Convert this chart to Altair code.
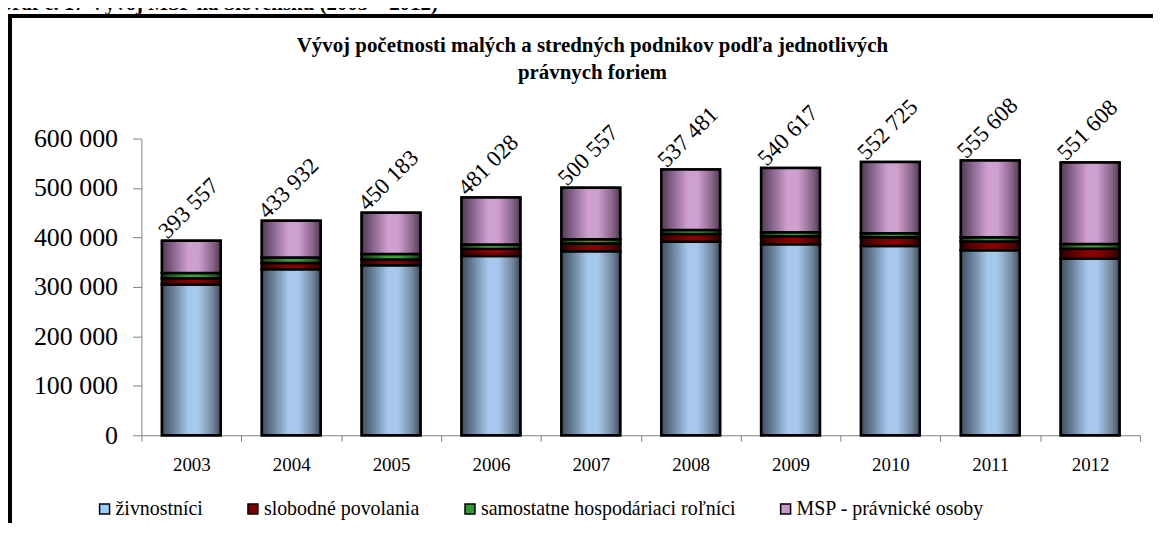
import altair as alt
import pandas as pd

years = ["2003", "2004", "2005", "2006", "2007", "2008", "2009", "2010", "2011", "2012"]
series_names = ["živnostníci", "slobodné povolania", "samostatne hospodáriaci roľníci", "MSP - právnické osoby"]
zivnostnici = [304800, 335600, 343700, 362400, 371900, 391500, 386000, 382500, 373900, 357200]
slobodne = [12500, 12700, 11500, 14500, 16000, 15500, 16500, 18000, 18000, 20000]
shr = [11000, 11300, 11500, 9000, 8500, 8000, 8000, 8000, 8500, 9500]
msp_po = [65257, 74332, 83483, 95128, 104157, 122481, 130117, 144225, 155208, 164908]
totals = [393557, 433932, 450183, 481028, 500557, 537481, 540617, 552725, 555608, 551608]

title_lines = ["Vývoj početnosti malých a stredných podnikov podľa jednotlivých", "právnych foriem"]
header = "Graf č. 17 Vývoj MSP na Slovensku (2003 – 2012)"
y_ticks = [0, 100000, 200000, 300000, 400000, 500000, 600000]

legend_colors = ["#99ccff", "#800000", "#339933", "#cc99cc"]
grad_stops = [
    ["#3f4d5e", "#667c95", "#a6c8ec", "#a6c8ec", "#74899f", "#3f4d5e"],
    ["#300000", "#580000", "#8a0000", "#8a0000", "#580000", "#300000"],
    ["#123312", "#226622", "#3aa03a", "#3aa03a", "#246a24", "#123312"],
    ["#523a52", "#85628a", "#cf9fd0", "#cf9fd0", "#8a668a", "#523a52"],
]
stop_pos = [0.0, 0.18, 0.45, 0.62, 0.86, 1.0]

FONT = "Liberation Serif"

rows = []
for i, y in enumerate(years):
    base = 0
    for k, vals in enumerate([zivnostnici, slobodne, shr, msp_po]):
        rows.append({"year": y, "series": series_names[k], "order": k,
                     "y0": base, "y1": base + vals[i]})
        base += vals[i]
df = pd.DataFrame(rows)
tot_df = pd.DataFrame({"year": years, "total": totals})

x_enc = alt.X("year:N", sort=years, title=None,
              scale=alt.Scale(paddingInner=0, paddingOuter=0),
              axis=alt.Axis(labelAngle=0, tickBand="extent", domainColor="#808080",
                            tickColor="#808080", tickSize=6, labelPadding=14,
                            labelFont=FONT, labelFontSize=19, labelColor="black"))
y_enc = alt.Y("y0:Q", title=None,
              scale=alt.Scale(domain=[0, 600000], nice=False),
              axis=alt.Axis(values=y_ticks, grid=False, domainColor="#808080",
                            tickColor="#808080", tickSize=9, labelPadding=15,
                            labelFont=FONT, labelFontSize=26, labelColor="black",
                            labelExpr="replace(format(datum.value, ',d'), ',', ' ')"))

flat = alt.Chart(df).mark_bar(width=59, stroke="black", strokeWidth=2.5).encode(
    x=x_enc, y=y_enc, y2="y1:Q",
    color=alt.Color("series:N",
                    scale=alt.Scale(domain=series_names, range=legend_colors),
                    legend=alt.Legend(title=None, orient="none", legendX=-47, legendY=362,
                                      direction="horizontal", symbolType="square",
                                      symbolSize=100, symbolStrokeColor="black",
                                      symbolStrokeWidth=1.5, labelFont=FONT,
                                      labelFontSize=20, labelColor="black", labelLimit=500,
                                      labelOffset=1, columnPadding=40)),
)

layers = [flat]
for k, s in enumerate(series_names):
    grad = alt.LinearGradient(
        gradient="linear", x1=0, x2=1, y1=0, y2=0,
        stops=[alt.GradientStop(offset=o, color=c) for o, c in zip(stop_pos, grad_stops[k])])
    layers.append(
        alt.Chart(df).transform_filter(alt.datum.series == s)
        .mark_bar(width=59, fill=grad, stroke="black", strokeWidth=2.5)
        .encode(x=alt.X("year:N", sort=years), y="y0:Q", y2="y1:Q")
    )

labels = alt.Chart(tot_df).transform_calculate(
    lbl="replace(format(datum.total, ',d'), ',', ' ')"
).mark_text(angle=315, align="left", baseline="alphabetic", font=FONT, fontSize=23,
            color="black", xOffset=-24, yOffset=-1).encode(
    x=alt.X("year:N", sort=years), y=alt.Y("total:Q"), text="lbl:N")

one = pd.DataFrame({"a": [0]})
frame = alt.Chart(one).mark_rect(fill="transparent", stroke="black", strokeWidth=4).encode(
    x=alt.value(-132), x2=alt.value(1200), y=alt.value(-123), y2=alt.value(600))

title_df = pd.DataFrame({"t": title_lines, "yy": [-87, -60]})
title = alt.Chart(title_df).mark_text(font=FONT, fontSize=21, fontWeight="bold",
                                     align="center", baseline="alphabetic", color="black").encode(
    text="t:N", x=alt.value(453), y=alt.Y("yy:Q", scale=None))

head = alt.Chart(pd.DataFrame({"t": [header]})).mark_text(
    font=FONT, fontSize=21, fontWeight="bold", align="left", baseline="alphabetic",
    color="black").encode(text="t:N", x=alt.value(-146), y=alt.value(-129))

chart = alt.layer(frame, *layers, labels, title, head).properties(
    width=1003, height=298,
    padding={"left": 134, "top": 130, "right": 13, "bottom": 87},
    autosize=alt.AutoSizeParams(type="none"),
    background="white",
).configure_view(strokeOpacity=0)

chart.save("out.html", embed_options={"renderer": "svg", "actions": False})
